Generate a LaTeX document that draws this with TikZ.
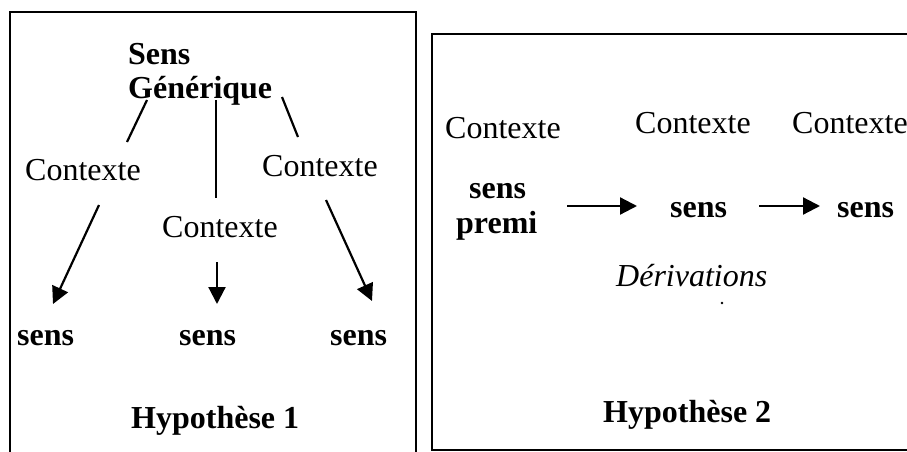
\documentclass[tikz,border=0pt]{standalone}
\usepackage{fontspec}
\setmainfont{Liberation Serif}
\usetikzlibrary{arrows.meta}
\begin{document}
\begin{tikzpicture}[x=1pt,y=-1pt,
  txt/.style={anchor=base west,inner sep=0pt,font=\fontsize{32}{36}\selectfont},
  btxt/.style={txt,font=\fontsize{32}{36}\selectfont\bfseries},
  itxt/.style={txt,font=\fontsize{32}{36}\selectfont\itshape},
  frame/.style={line width=1.8pt,draw=black},
  link/.style={line width=2.2pt},
  arr/.style={line width=2.2pt,-{Triangle[length=17pt,width=17pt]}}]
\useasboundingbox (0,0) rectangle (907,452);
% frames
\draw[frame] (10,470) -- (10,12) -- (416,12) -- (416,470);
\draw[frame] (925,34) -- (432,34) -- (432,450) -- (925,450);
% Hypothesis 1
\node[btxt] (s1) at (128,65) {Sens};
\node[btxt] (g1) at (128,98) {Générique};
\node[txt] (c1) at (25,180) {Contexte};
\node[txt] (c2) at (262,176) {Contexte};
\node[txt] (c3) at (162,237) {Contexte};
\node[btxt] (r1) at (17,345) {sens};
\node[btxt] (r2) at (179,345) {sens};
\node[btxt] (r3) at (330,345) {sens};
\node[btxt] (h1) at (131,428) {Hypothèse 1};
\coordinate (l1a) at (147,100); \coordinate (l1b) at (127,142);
\coordinate (l2a) at (216,100); \coordinate (l2b) at (216,198);
\coordinate (l3a) at (282,97);  \coordinate (l3b) at (298,137);
\draw[link] (l1a) -- (l1b);
\draw[link] (l2a) -- (l2b);
\draw[link] (l3a) -- (l3b);
\coordinate (a1a) at (99,205);  \coordinate (a1b) at (53,304);
\coordinate (a2a) at (217,262); \coordinate (a2b) at (217,304);
\coordinate (a3a) at (326,200); \coordinate (a3b) at (372,301);
\draw[arr] (a1a) -- (a1b);
\draw[arr] (a2a) -- (a2b);
\draw[arr] (a3a) -- (a3b);
% Hypothesis 2
\node[txt] (d1) at (445,138) {Contexte};
\node[txt] (d2) at (635,133) {Contexte};
\node[txt] (d3) at (792,133) {Contexte};
\node[btxt] (p1) at (469,198) {sens};
\node[btxt] (p2) at (456,233) {premi};
\node[btxt] (q1) at (670,217) {sens};
\node[btxt] (q2) at (837,217) {sens};
\node[itxt] (dv) at (616,286) {Dérivations};
\node[btxt] (h2) at (603,422) {Hypothèse 2};
\coordinate (b1a) at (567,206); \coordinate (b1b) at (637,206);
\coordinate (b2a) at (759,206); \coordinate (b2b) at (820,206);
\draw[arr] (b1a) -- (b1b);
\draw[arr] (b2a) -- (b2b);
\fill (722,303) circle (1.3pt);
\end{tikzpicture}
\end{document}
